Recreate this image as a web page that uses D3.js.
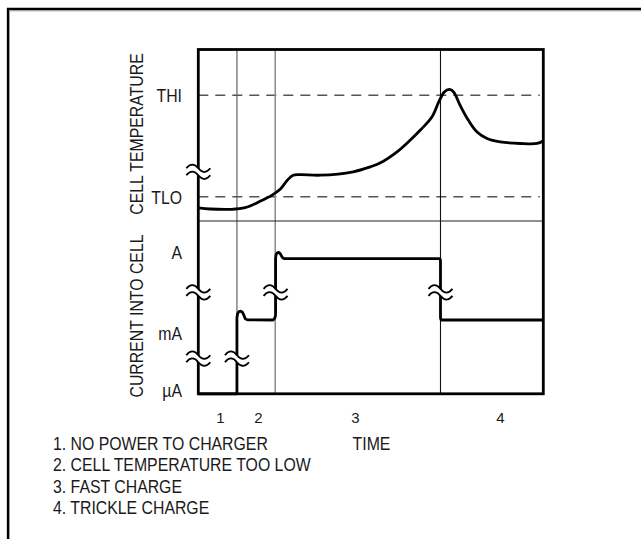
<!DOCTYPE html>
<html>
<head>
<meta charset="utf-8">
<script src="https://cdn.jsdelivr.net/npm/d3@7"></script>
<style>
  body { margin: 0; background: #fff; }
  text { font-family: "Liberation Sans", Arial, sans-serif; fill: #1a1a1a; }
</style>
</head>
<body>
<div id="chart"></div>
<script>
// chart data (arbitrary units: time 0-100, temperature 0-100, current 0-100)
const phaseBounds = [11.2, 22.3, 70.2];
const phaseLabels = ["1", "2", "3", "4"];
const phaseLabelT = [6.3, 17.3, 45.4, 87.4];
const tempTickLabels = ["THI", "TLO"];
const tempTickValues = [73.3, 14.1];
const currTickLabels = ["A", "mA", "\u00b5A"];
const currTickValues = [82.3, 35.2, 2.3];
const notes = ["1. NO POWER TO CHARGER", "2. CELL TEMPERATURE TOO LOW", "3. FAST CHARGE", "4. TRICKLE CHARGE"];

const tempCurve = [
  [0, 7.7], [3.5, 7.0], [9.3, 6.8], [13.6, 7.8], [18.0, 11.6], [21.4, 15.1], [23.8, 18.6],
  [25.8, 23.8], [27.5, 26.7], [29.6, 27.0], [35.4, 26.7], [44.9, 28.7], [49.9, 31.6],
  [52.8, 33.9], [57.6, 40.3], [61.4, 47.1], [64.3, 52.9], [67.7, 60.6], [69.7, 69.4],
  [71.3, 75.2], [72.8, 76.7], [74.0, 75.2], [75.9, 67.4], [78.3, 58.7], [80.8, 51.9],
  [83.7, 48.1], [87.5, 46.1], [93.3, 45.2], [98.2, 45.2], [100, 46.8]
];

const currentCurve = [
  [0, 0], [11.2, 0], [11.2, 44], [11.4, 46.5], [11.8, 47.6], [12.3, 47.8], [12.8, 47.2],
  [13.2, 45.5], [13.6, 43.5], [14.2, 42.8], [21.6, 42.7], [22.0, 43.2], [22.3, 44.5],
  [22.4, 46], [22.4, 78.5], [22.55, 80.6], [22.9, 81.6], [23.3, 81.8], [23.7, 81.3],
  [24.1, 79.8], [24.5, 78.6], [25, 78.2], [69.9, 78.2], [70.15, 77.6], [70.2, 76.5],
  [70.2, 44], [70.3, 43.1], [70.6, 42.7], [100, 42.7]
];

// break marks: [time, value] on the temperature / current panels
const tempBreaks = [[0, 28.7]];
const currBreaks = [[0, 58.7], [0, 20.3], [11.2, 20.3], [22.4, 58.7], [70.2, 58.7]];

const W = 641, H = 539;
const plotLeft = 198.3, plotRight = 543.3, plotTop = 49.5, plotMid = 221, plotBottom = 393.8;
const narrow = 0.88;

const svg = d3.select("#chart").append("svg")
  .attr("width", W).attr("height", H);

// outer frame (runs off the picture on the right and bottom)
svg.append("path")
  .attr("d", "M8.5,560 V9.5 H660")
  .attr("fill", "none").attr("stroke", "#bbb").attr("stroke-width", 1)
  .attr("transform", "translate(1,1.5)");
svg.append("path")
  .attr("d", "M8,560 V9 H660")
  .attr("fill", "none").attr("stroke", "#000").attr("stroke-width", 2.3);

const x = d3.scaleLinear().domain([0, 100]).range([plotLeft, plotRight]);
const yT = d3.scaleLinear().domain([0, 100]).range([plotMid, plotTop]);
const yC = d3.scaleLinear().domain([0, 100]).range([plotBottom, plotMid]);

// threshold dashed lines
svg.selectAll(".thresh")
  .data(tempTickValues)
  .enter().append("line")
  .attr("class", "thresh")
  .attr("x1", x(0)).attr("x2", x(99))
  .attr("y1", d => yT(d)).attr("y2", d => yT(d))
  .attr("stroke", "#555").attr("stroke-width", 1.4)
  .attr("stroke-dasharray", "10,7");

// phase separators
const phaseColors = ["#555", "#8a8a8a", "#111"];
const phaseWidths = [1.1, 1.5, 1.1];
svg.selectAll(".phase")
  .data(phaseBounds)
  .enter().append("line")
  .attr("class", "phase")
  .attr("x1", d => x(d)).attr("x2", d => x(d))
  .attr("y1", plotTop).attr("y2", plotBottom)
  .attr("stroke", (d, i) => phaseColors[i])
  .attr("stroke-width", (d, i) => phaseWidths[i]);

// panel divider
svg.append("line")
  .attr("x1", plotLeft).attr("x2", plotRight)
  .attr("y1", plotMid).attr("y2", plotMid)
  .attr("stroke", "#222").attr("stroke-width", 1.1);

// frame of the plot
svg.append("rect")
  .attr("x", plotLeft).attr("y", plotTop)
  .attr("width", plotRight - plotLeft).attr("height", plotBottom - plotTop)
  .attr("fill", "none").attr("stroke", "#000").attr("stroke-width", 2.8);

// curves
const lineT = d3.line()
  .x(d => x(d[0])).y(d => yT(d[1]))
  .curve(d3.curveCatmullRom.alpha(0.5));
svg.append("path")
  .datum(tempCurve)
  .attr("d", lineT)
  .attr("fill", "none").attr("stroke", "#000").attr("stroke-width", 2.8)
  .attr("stroke-linejoin", "round");

const lineC = d3.line()
  .x(d => x(d[0])).y(d => yC(d[1]));
svg.append("path")
  .datum(currentCurve)
  .attr("d", lineC)
  .attr("fill", "none").attr("stroke", "#000").attr("stroke-width", 2.8)
  .attr("stroke-linejoin", "round");

// break symbols
function breakMark(cx, cy) {
  const g = svg.append("g").attr("transform", "translate(" + cx + "," + cy + ")");
  const up = "M-12,-3.5 C-8,-8.5 -4,-8.5 0,-3.5 C4,1.5 8,1.5 12,-3.5";
  const dn = "M-12,3.5 C-8,-1.5 -4,-1.5 0,3.5 C4,8.5 8,8.5 12,3.5";
  g.append("path")
    .attr("d", up + " L12,3.5 C8,8.5 4,8.5 0,3.5 C-4,-1.5 -8,-1.5 -12,3.5 Z")
    .attr("fill", "#fff").attr("stroke", "none");
  g.append("path").attr("d", up)
    .attr("fill", "none").attr("stroke", "#000").attr("stroke-width", 1.8);
  g.append("path").attr("d", dn)
    .attr("fill", "none").attr("stroke", "#000").attr("stroke-width", 1.8);
}
tempBreaks.forEach(d => breakMark(x(d[0]), yT(d[1])));
currBreaks.forEach(d => breakMark(x(d[0]), yC(d[1])));

// level labels through axes
function levelAxis(scale, values, labels) {
  const g = svg.append("g")
    .attr("transform", "translate(" + plotLeft + ",0)")
    .call(d3.axisLeft(scale)
      .tickValues(values)
      .tickFormat((d, i) => labels[i])
      .tickSize(0)
      .tickPadding(18.5));
  g.select(".domain").remove();
  g.selectAll("text")
    .attr("font-family", "Liberation Sans, Arial, sans-serif")
    .attr("font-size", 18)
    .attr("fill", "#1a1a1a")
    .attr("dy", "0.36em")
    .attr("transform", "scale(" + narrow + ",1)");
}
levelAxis(yT, tempTickValues, tempTickLabels);
levelAxis(yC, currTickValues, currTickLabels);

// phase numbers below the plot
const phaseAxis = svg.append("g")
  .attr("transform", "translate(0," + plotBottom + ")")
  .call(d3.axisBottom(x)
    .tickValues(phaseLabelT)
    .tickFormat((d, i) => phaseLabels[i])
    .tickSize(0)
    .tickPadding(18.5));
phaseAxis.select(".domain").remove();
phaseAxis.selectAll("text")
  .attr("font-family", "Liberation Sans, Arial, sans-serif")
  .attr("font-size", 15)
  .attr("fill", "#1a1a1a");

// titles
function label(txt, px, py, rot, anchor) {
  svg.append("text")
    .attr("transform", "translate(" + px + "," + py + ")" + (rot ? " rotate(" + rot + ")" : "") + " scale(" + narrow + ",1)")
    .attr("text-anchor", anchor)
    .attr("font-size", 18)
    .text(txt);
}
label("CELL TEMPERATURE", 143, 134, -90, "middle");
label("CURRENT INTO CELL", 143, 316, -90, "middle");
label("TIME", x(50.2), 450, 0, "middle");

notes.forEach((n, i) => label(n, 53, 450 + i * 21.4, 0, "start"));
</script>
</body>
</html>
